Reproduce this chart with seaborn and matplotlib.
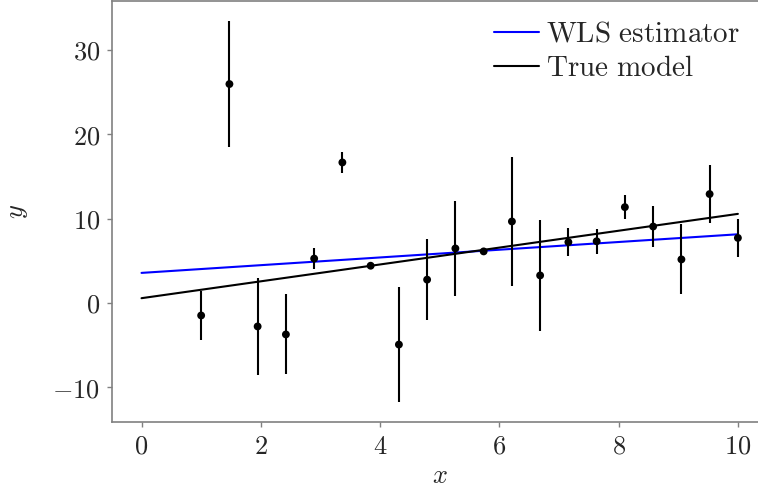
import matplotlib
matplotlib.use("Agg")
import matplotlib.pyplot as plt
from matplotlib.ticker import FuncFormatter, MultipleLocator
import seaborn as sns
import pandas as pd

# data
x_obs = [1.0, 1.474, 1.947, 2.421, 2.895, 3.368, 3.842, 4.316, 4.789, 5.263,
         5.737, 6.211, 6.684, 7.158, 7.632, 8.105, 8.579, 9.053, 9.526, 10.0]
y_obs = [-1.5, 25.95, -2.8, -3.75, 5.25, 16.65, 4.4, -4.95, 2.75, 6.45,
         6.1, 9.65, 3.25, 7.2, 7.3, 11.35, 9.05, 5.15, 12.9, 7.7]
y_err = [2.95, 7.5, 5.8, 4.75, 1.25, 1.2, 0.3, 6.85, 4.8, 5.6,
         0.3, 7.7, 6.6, 1.65, 1.45, 1.45, 2.4, 4.15, 3.4, 2.3]
line_x = [0.0, 10.0]
wls_y = [3.55, 8.13]
true_y = [0.55, 10.55]

sns.set_theme(style="white")
plt.rcParams["mathtext.fontset"] = "cm"
plt.rcParams["font.family"] = ["DejaVu Serif"]

fig = plt.figure(figsize=(7.58, 4.93), dpi=100)
ax = fig.add_axes([111.7 / 758, (493 - 421.7) / 493, 656 / 758, 420.7 / 493])

lines = pd.DataFrame({
    "x": line_x * 2,
    "y": wls_y + true_y,
    "series": [r"$\mathrm{WLS\ estimator}$"] * 2 + [r"$\mathrm{True\ model}$"] * 2,
})
sns.lineplot(data=lines, x="x", y="y", hue="series",
             palette=["#0000ff", "black"], linewidth=1.5, ax=ax, legend=True)

ax.errorbar(x_obs, y_obs, yerr=y_err, fmt="none", ecolor="black",
            elinewidth=1.5, capsize=0, zorder=3)
sns.scatterplot(x=x_obs, y=y_obs, color="black", s=32, edgecolor="none",
                ax=ax, zorder=4)

ax.set_xlim(-0.5, 10.5)
ax.set_ylim(-14.1, 35.8)
ax.xaxis.set_major_locator(MultipleLocator(2))
ax.yaxis.set_major_locator(MultipleLocator(10))
fmt = FuncFormatter(lambda v, p: f"${v:.0f}$")
ax.xaxis.set_major_formatter(fmt)
ax.yaxis.set_major_formatter(fmt)
ax.tick_params(axis="both", which="major", direction="out", length=3.5,
               width=1.0, color="#808080", labelsize=19, pad=5,
               bottom=True, left=True)
for s in ax.spines.values():
    s.set_color("#808080")
    s.set_linewidth(1.2)

ax.set_xlabel("$x$", fontsize=19, labelpad=3)
ax.set_ylabel("$y$", fontsize=19, labelpad=16)

leg = ax.legend(loc="upper left", bbox_to_anchor=(494 / 758, 1 - 20 / 493),
                bbox_transform=fig.transFigure, frameon=False, fontsize=21,
                handlelength=1.55, handletextpad=0.25, labelspacing=0.22,
                borderpad=0, borderaxespad=0)
for h in leg.get_lines():
    h.set_linewidth(1.5)

fig.savefig("out.png", dpi=100)
